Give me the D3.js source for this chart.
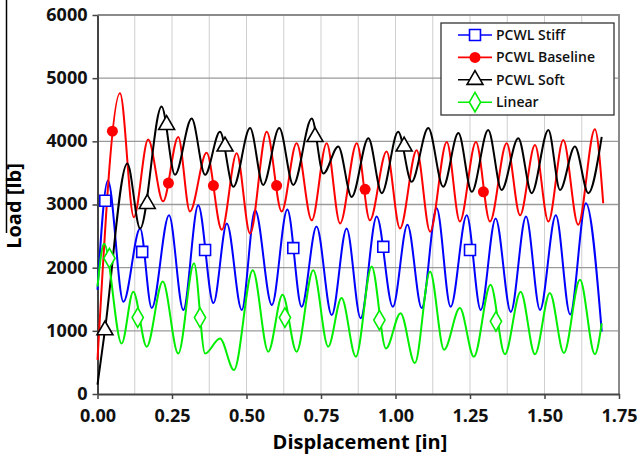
<!DOCTYPE html>
<html lang="en">
<head>
    <meta charset="UTF-8">
    <title>Load vs displacement</title>
    <style>
        body{margin:0;background:#fff;}
        text{font-family:"Open Sans",sans-serif;}
    </style>
</head>
<body>
<div class="chart"></div>
<script src="https://cdn.jsdelivr.net/npm/d3@7"></script>
<script>
// peaks / troughs, [displacement in, load lb]
let stiffPts=[[0,1650],[0.035,3380],[0.087,1460],[0.143,2620],[0.182,1360],[0.240,2830],[0.288,1330],[0.338,2990],[0.389,1440],[0.434,2700],[0.484,1330],[0.529,2910],[0.585,1410],[0.637,2920],[0.685,1380],[0.735,2650],[0.786,1250],[0.836,2620],[0.883,1200],[0.937,2810],[0.991,1380],[1.040,2680],[1.088,1360],[1.138,2940],[1.185,1380],[1.239,2830],[1.286,1330],[1.336,2780],[1.387,1300],[1.438,2810],[1.485,1330],[1.538,2830],[1.586,1260],[1.639,3020],[1.692,990]]
let baselinePts=[[0,540],[0.0755,4760],[0.122,2800],[0.170,4030],[0.220,3050],[0.271,4070],[0.310,2890],[0.366,3820],[0.417,2600],[0.467,3810],[0.512,2540],[0.568,4150],[0.618,2890],[0.668,3970],[0.719,2750],[0.769,3970],[0.814,2700],[0.870,3970],[0.914,2750],[0.970,3840],[1.015,2620],[1.071,3860],[1.116,2570],[1.172,3990],[1.216,2730],[1.270,3990],[1.317,2730],[1.373,3970],[1.418,2830],[1.468,3940],[1.513,2730],[1.563,4020],[1.613,2680],[1.669,4190],[1.697,3020]]
let softPts=[[0,150],[0.025,1010],[0.100,3650],[0.143,2620],[0.215,4550],[0.260,3470],[0.316,4360],[0.361,3470],[0.411,4150],[0.456,3280],[0.512,4210],[0.556,3310],[0.610,4210],[0.657,3310],[0.719,4360],[0.758,3490],[0.808,3920],[0.853,3120],[0.909,4050],[0.954,3180],[1.009,4150],[1.054,3360],[1.110,4210],[1.160,3280],[1.211,4130],[1.256,3200],[1.311,4180],[1.356,3230],[1.412,4050],[1.457,3180],[1.513,4180],[1.552,3230],[1.602,3920],[1.647,3180],[1.692,4070]]
let linearPts=[[0,1700],[0.022,2380],[0.081,800],[0.120,1620],[0.165,750],[0.219,1780],[0.271,640],[0.324,2070],[0.361,640],[0.411,880],[0.458,380],[0.521,1960],[0.573,670],[0.621,1570],[0.668,670],[0.724,1960],[0.774,750],[0.819,1520],[0.867,590],[0.920,2020],[0.968,720],[1.017,1280],[1.065,490],[1.116,1940],[1.163,700],[1.216,1360],[1.263,590],[1.319,1730],[1.367,630],[1.420,1620],[1.468,630],[1.518,1600],[1.565,650],[1.619,1810],[1.669,630],[1.692,1120]]

// marker positions
let stiffMarks=[[0.026,3060],[0.150,2250],[0.361,2280],[0.657,2310],[0.959,2330],[1.250,2280]]
let baselineMarks=[[0.050,4160],[0.238,3340],[0.389,3300],[0.601,3300],[0.898,3240],[1.295,3200]]
let softMarks=[[0.025,1010],[0.167,3010],[0.232,4260],[0.428,3920],[0.730,4070],[1.029,3920]]
let linearMarks=[[0.040,2150],[0.135,1210],[0.344,1210],[0.629,1210],[0.946,1170],[1.337,1150]]

let seriesNames=['PCWL Stiff','PCWL Baseline','PCWL Soft','Linear']
let xTicks=[0,0.25,0.5,0.75,1,1.25,1.5,1.75]
let xGrid=d3.range(0,15).map(i=>i*0.125)
let yTicks=[0,1000,2000,3000,4000,5000,6000]

var width=640,height=462
var mLeft=97.5,mRight=619,mTop=15,mBottom=394

let x=d3.scaleLinear().domain([0,1.75]).range([mLeft,mRight])
let y=d3.scaleLinear().domain([0,6000]).range([mBottom,mTop])

let svg=d3.select('.chart').append('svg')
    .attr('width',width)
    .attr('height',height)

// stray black line at the left edge of the scan
svg.append('line')
    .attr('x1',6.5).attr('x2',6.5).attr('y1',0).attr('y2',233)
    .attr('stroke','#000').attr('stroke-width',1.5)

// grid
svg.append('g').selectAll('line').data(xGrid.slice(1)).join('line')
    .attr('x1',d=>x(d)).attr('x2',d=>x(d))
    .attr('y1',mTop).attr('y2',mBottom)
    .attr('stroke','#cfcfcf').attr('stroke-width',1)
svg.append('g').selectAll('line').data(yTicks.slice(1,-1)).join('line')
    .attr('x1',mLeft).attr('x2',mRight)
    .attr('y1',d=>y(d)).attr('y2',d=>y(d))
    .attr('stroke','#9a9a9a').attr('stroke-width',1.3)

// frame top / right
svg.append('path')
    .attr('d',`M${mLeft},${mTop}H${mRight}V${mBottom}`)
    .attr('fill','none').attr('stroke','#8a8a8a').attr('stroke-width',2)

// axes
let xAxis=svg.append('g')
    .attr('transform',`translate(0,${mBottom})`)
    .call(d3.axisBottom(x).tickValues(xTicks).tickFormat(d3.format('.2f')).tickSize(5).tickSizeOuter(0))
let yAxis=svg.append('g')
    .attr('transform',`translate(${mLeft},0)`)
    .call(d3.axisLeft(y).tickValues(yTicks).tickFormat(d3.format('d')).tickSize(5).tickSizeOuter(0))

svg.selectAll('.domain').attr('stroke','#444').attr('stroke-width',2)
svg.selectAll('.tick line').attr('stroke','#444').attr('stroke-width',1.5)
xAxis.selectAll('text')
    .attr('dy','1.1em')
    .style('font-size','18px').style('font-weight','bold').attr('fill','#111')
yAxis.selectAll('text')
    .attr('x',-10).attr('dy','0.3em')
    .style('font-size','18px').style('font-weight','bold').attr('fill','#111')

svg.append('text')
    .attr('x',360).attr('y',449)
    .attr('text-anchor','middle')
    .style('font-size','20px').style('font-weight','bold')
    .text('Displacement [in]')
svg.append('text')
    .attr('transform','translate(21,206) rotate(-90)')
    .attr('text-anchor','middle')
    .style('font-size','20px').style('font-weight','bold')
    .text('Load [lb]')

// series
let series=[
    {name:seriesNames[0],pts:stiffPts,marks:stiffMarks,color:'#0000ff',shape:'square'},
    {name:seriesNames[1],pts:baselinePts,marks:baselineMarks,color:'#ff0000',shape:'circle'},
    {name:seriesNames[2],pts:softPts,marks:softMarks,color:'#000000',shape:'triangle'},
    {name:seriesNames[3],pts:linearPts,marks:linearMarks,color:'#00ee00',shape:'diamond'}
]

let line=d3.line()
    .x(d=>x(d[0]))
    .y(d=>y(d[1]))
    .curve(d3.curveMonotoneX)

let shapes={
    square:d3.symbol(d3.symbolSquare,120),
    circle:d3.symbol(d3.symbolCircle,95),
    triangle:d3.symbol(d3.symbolTriangle,110),
    diamond:d3.symbol(d3.symbolDiamond,110)
}
let drawMark=function(sel,s){
    sel.attr('d',shapes[s.shape])
        .attr('fill',s.shape==='circle'?s.color:'#fff')
        .attr('stroke',s.color)
        .attr('stroke-width',s.shape==='circle'?0:1.6)
}

let lines=svg.append('g')
series.forEach(s=>{
    lines.append('path')
        .attr('d',line(s.pts))
        .attr('fill','none')
        .attr('stroke',s.color)
        .attr('stroke-width',2)
        .attr('stroke-linejoin','round')
})
series.forEach(s=>{
    lines.append('g').selectAll('path').data(s.marks).join('path')
        .attr('transform',d=>`translate(${x(d[0])},${y(d[1])})`)
        .call(drawMark,s)
})

// legend
let legend=svg.append('g')
legend.append('rect')
    .attr('x',441).attr('y',23).attr('width',173).attr('height',92)
    .attr('fill','#fff').attr('stroke','#333').attr('stroke-width',1.3)
let item=legend.selectAll('.item').data(series).join('g')
    .attr('class','item')
    .attr('transform',(d,i)=>`translate(0,${35+i*22.4})`)
item.append('line')
    .attr('x1',458).attr('x2',492)
    .attr('stroke',d=>d.color).attr('stroke-width',1.6)
item.append('path')
    .attr('transform','translate(475,0)')
    .each(function(d){ d3.select(this).call(drawMark,d) })
item.append('text')
    .attr('x',496).attr('dy','0.36em')
    .style('font-size','14px').style('font-weight','600')
    .attr('fill','#111')
    .text(d=>d.name)
</script>
</body>
</html>
